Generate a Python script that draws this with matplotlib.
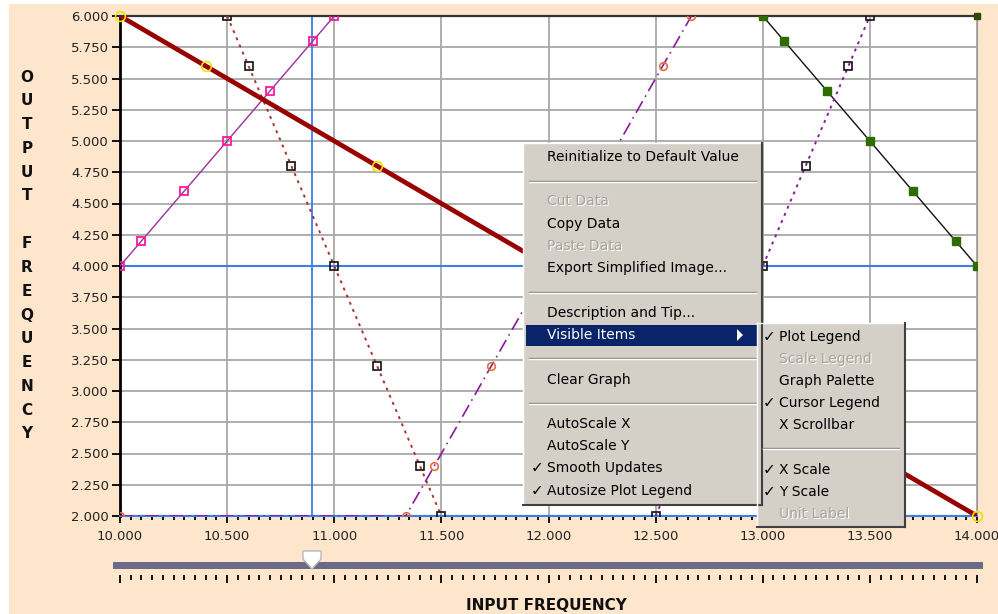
import matplotlib
matplotlib.use("Agg")
import matplotlib.pyplot as plt
from matplotlib.patches import Rectangle, Polygon
from matplotlib.ticker import MultipleLocator, FormatStrFormatter

# series
red_x = [10.0, 10.4, 11.2, 12.0, 12.8, 13.6, 14.0]
red_y = [6.0, 5.6, 4.8, 4.0, 3.2, 2.4, 2.0]
pink_x = [10.0, 10.1, 10.3, 10.5, 10.7, 10.9, 11.0]
pink_y = [4.0, 4.2, 4.6, 5.0, 5.4, 5.8, 6.0]
blk1_x = [10.5, 10.6, 10.8, 11.0, 11.2, 11.4, 11.5]
blk1_y = [6.0, 5.6, 4.8, 4.0, 3.2, 2.4, 2.0]
orng_x = [10.0, 11.333, 11.467, 11.733, 12.0, 12.267, 12.533, 12.667]
orng_y = [2.0, 2.0, 2.4, 3.2, 4.0, 4.8, 5.6, 6.0]
grn_x = [13.0, 13.1, 13.3, 13.5, 13.7, 13.9, 14.0]
grn_y = [6.0, 5.8, 5.4, 5.0, 4.6, 4.2, 4.0]
blk2_x = [12.5, 12.6, 12.8, 13.0, 13.2, 13.4, 13.5]
blk2_y = [2.0, 2.4, 3.2, 4.0, 4.8, 5.6, 6.0]
corner_x = [14.0]
corner_y = [6.0]

cursor_x = 10.895
cursor_y = [4.0, 2.0]

menu_items = ["Reinitialize to Default Value", "-", "Cut Data", "Copy Data", "Paste Data",
              "Export Simplified Image...", "-", "Description and Tip...", "Visible Items",
              "-", "Clear Graph", "-", "AutoScale X", "AutoScale Y", "Smooth Updates",
              "Autosize Plot Legend"]
menu_checked = ["Smooth Updates", "Autosize Plot Legend"]
menu_disabled = ["Cut Data", "Paste Data"]
sub_items = ["Plot Legend", "Scale Legend", "Graph Palette", "Cursor Legend", "X Scrollbar",
             "-", "X Scale", "Y Scale", "Unit Label"]
sub_checked = ["Plot Legend", "Cursor Legend", "X Scale", "Y Scale"]
sub_disabled = ["Scale Legend", "Unit Label"]

W, H = 998, 614
bg = "#fee6cd"
blue = "#3a7ee8"

fig = plt.figure(figsize=(W / 100, H / 100), dpi=100, facecolor=bg)

ax = fig.add_axes([120 / W, (H - 516) / H, 857 / W, 500 / H])
ax.set_facecolor("white")
ax.set_xlim(10, 14)
ax.set_ylim(2, 6)
ax.xaxis.set_major_locator(MultipleLocator(0.5))
ax.xaxis.set_minor_locator(MultipleLocator(0.05))
ax.yaxis.set_major_locator(MultipleLocator(0.25))
ax.xaxis.set_major_formatter(FormatStrFormatter("%.3f"))
ax.yaxis.set_major_formatter(FormatStrFormatter("%.3f"))
ax.grid(True, which="major", color="#a8a8a8", lw=1.3)
ax.set_axisbelow(True)
ax.tick_params(axis="both", which="major", labelsize=9.5, labelcolor="#222222")
ax.tick_params(axis="y", length=6, width=1.3, pad=2)
ax.tick_params(axis="x", which="major", length=5, width=1.3, pad=5)
ax.tick_params(axis="x", which="minor", length=3, width=1.3)
ax.spines["left"].set_linewidth(2)
ax.spines["top"].set_color("#333333")
ax.spines["top"].set_linewidth(1.6)
ax.spines["right"].set_color("#999999")
ax.spines["bottom"].set_color(blue)
ax.spines["bottom"].set_linewidth(1.5)

# cursors
ax.axvline(cursor_x, color=blue, lw=1.3, zorder=2)
for cy in cursor_y:
    ax.axhline(cy, color=blue, lw=1.5, zorder=2)

ax.plot(pink_x, pink_y, color="#9b30a0", lw=1, marker="s", ms=5.5, mfc="none",
        mec="#ff1a9c", mew=1.3, zorder=3)
ax.plot(blk1_x, blk1_y, color="#b03030", lw=1.4, ls=(0, (1.5, 2.5)), marker="s", ms=5.5,
        mfc="none", mec="#111111", mew=1.2, zorder=3)
ax.plot(orng_x, orng_y, color="#8b1a9b", lw=1.2, ls=(0, (8, 3, 1, 3)), marker="o", ms=5.5,
        mfc="none", mec="#e0703c", mew=1.2, zorder=3)
ax.plot(grn_x, grn_y, color="#111111", lw=1, marker="s", ms=6, mfc="#2e6b00",
        mec="#2e6b00", zorder=3)
ax.plot(blk2_x, blk2_y, color="#8b1a9b", lw=1.4, ls=(0, (1.5, 2.5)), marker="s", ms=5.5,
        mfc="none", mec="#111111", mew=1.2, zorder=3)
ax.plot(corner_x, corner_y, ls="none", marker="s", ms=5, color="#2e4a00", zorder=3,
        clip_on=False)
ax.plot(red_x, red_y, color="#990000", lw=3.4, zorder=4, solid_capstyle="butt")
ax.plot(red_x, red_y, ls="none", marker="o", ms=7, mfc="none", mec="#f0e000", mew=1.2,
        zorder=5, clip_on=False)

# scrollbar scale
sax = fig.add_axes([120 / W, (H - 575) / H, 857 / W, 0.0001])
sax.set_xlim(10, 14)
sax.set_yticks([])
for s in sax.spines.values():
    s.set_visible(False)
sax.xaxis.set_major_locator(MultipleLocator(0.5))
sax.xaxis.set_minor_locator(MultipleLocator(0.05))
sax.tick_params(axis="x", which="major", length=6, width=1.3, labelbottom=False)
sax.tick_params(axis="x", which="minor", length=3.5, width=1.3)
sax.patch.set_visible(False)

# overlay in pixel coordinates
ov = fig.add_axes([0, 0, 1, 1], zorder=10)
ov.set_xlim(0, W)
ov.set_ylim(H, 0)
ov.axis("off")
ov.patch.set_visible(False)

ov.add_patch(Rectangle((0, 0), W, 4, color="white", lw=0))
ov.add_patch(Rectangle((0, 0), 9, H, color="white", lw=0))

# slider
ov.add_patch(Rectangle((113, 562), 870, 7, color="#6b6b87", lw=0))
ov.add_patch(Polygon([(303, 551), (321, 551), (321, 559), (312, 569), (303, 559)],
                     closed=True, fc="white", ec="#b8b8b8", lw=1))

# axis titles
letters = "OUTPUT FREQUENCY"
for i, ch in enumerate(letters):
    ov.text(27, 77 + i * 23.8, ch, ha="center", va="center", fontsize=11,
            fontweight="bold", color="#111111")
ov.text(546, 605, "INPUT FREQUENCY", ha="center", va="center", fontsize=11,
        fontweight="bold", color="#111111")


def draw_menu(x0, y0, x1, y1, items, checked, disabled, ys, tx, highlight=None):
    ov.add_patch(Rectangle((x0, y0), x1 - x0, y1 - y0, fc="#d4d0c8", ec="none"))
    ov.plot([x0, x1], [y0, y0], color="white", lw=1)
    ov.plot([x0, x0], [y0, y1], color="white", lw=1)
    ov.plot([x1, x1], [y0, y1], color="#404040", lw=1.5)
    ov.plot([x0, x1], [y1, y1], color="#404040", lw=1.5)
    for item, y in zip(items, ys):
        if item == "-":
            ov.plot([x0 + 6, x1 - 6], [y, y], color="#808080", lw=1)
            ov.plot([x0 + 6, x1 - 6], [y + 1, y + 1], color="white", lw=1)
            continue
        col = "black"
        if item == highlight:
            ov.add_patch(Rectangle((x0 + 3, y - 10.5), x1 - x0 - 6, 21, fc="#0a246a", ec="none"))
            col = "white"
            ov.add_patch(Polygon([(x1 - 25, y - 6), (x1 - 25, y + 6), (x1 - 19, y)],
                                 closed=True, fc="white", ec="none"))
        if item in disabled:
            ov.text(tx + 1, y + 1, item, ha="left", va="center", fontsize=10, color="white")
            col = "#a6a39a"
        ov.text(tx, y, item, ha="left", va="center", fontsize=10, color=col)
        if item in checked:
            ov.text(tx - 10, y, "\u2713", ha="center", va="center", fontsize=11, color="black")


menu_y = [157, 181, 201, 224, 246, 268, 292, 313, 335, 358, 380, 403, 424, 446, 468, 491]
draw_menu(523, 143, 762, 505, menu_items, menu_checked, menu_disabled, menu_y, 547,
          highlight="Visible Items")
sub_y = [337, 359, 381, 403, 425, 448, 470, 492, 514]
draw_menu(757, 323, 905, 527, sub_items, sub_checked, sub_disabled, sub_y, 779)

fig.savefig("out.png", dpi=100, facecolor=bg)
